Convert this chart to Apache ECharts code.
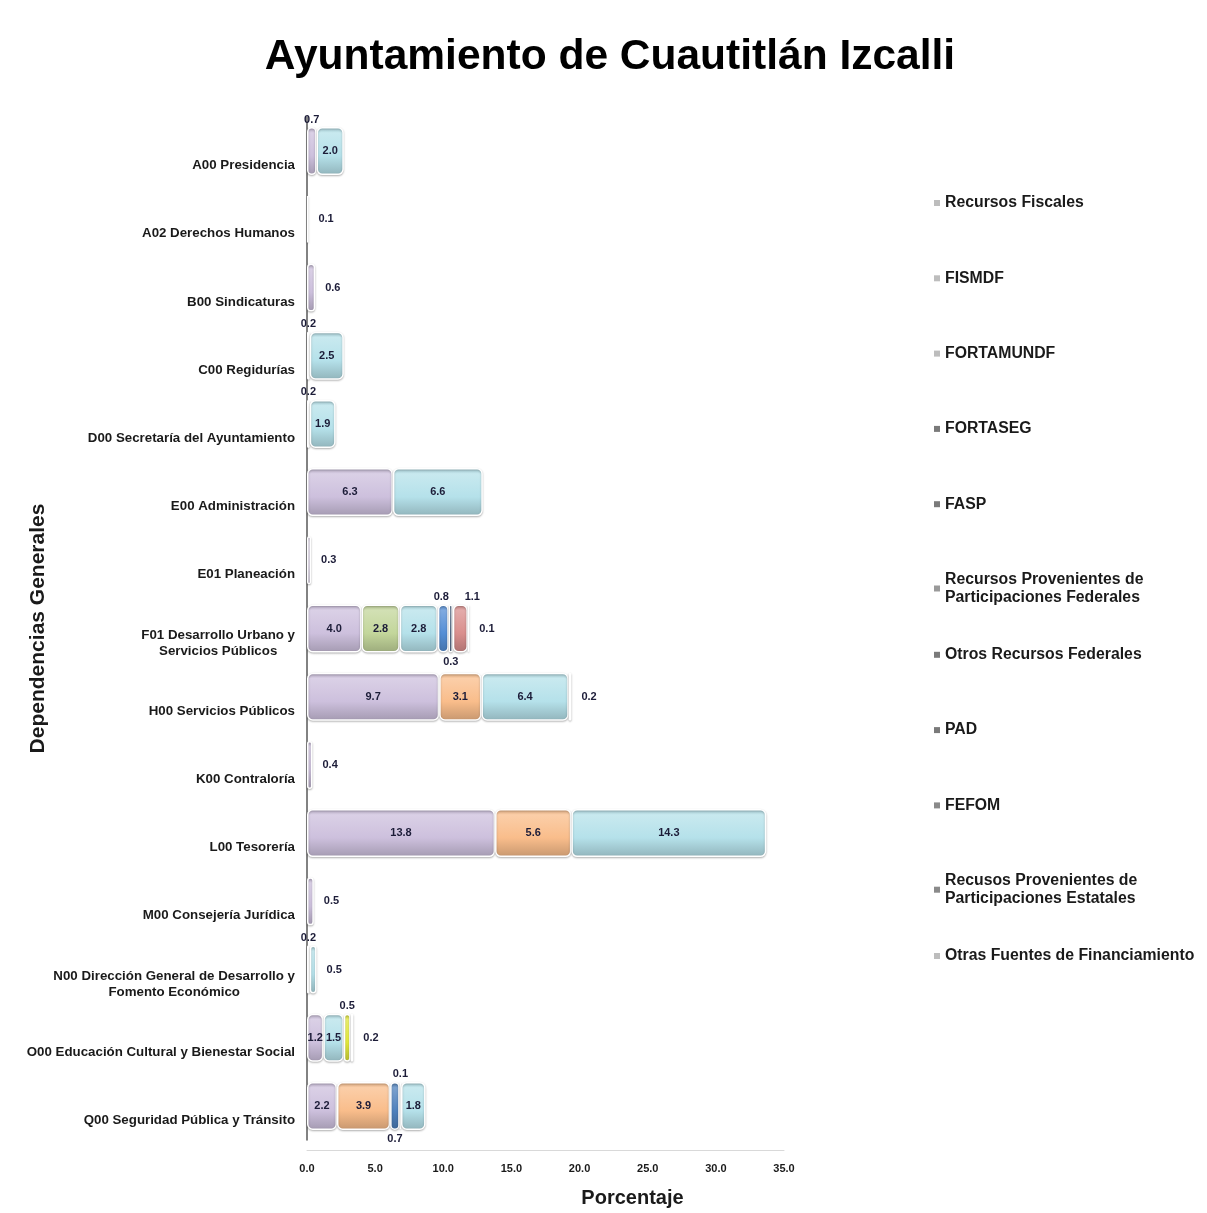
<!DOCTYPE html>
<html>
<head>
<meta charset="utf-8">
<script src="https://cdn.jsdelivr.net/npm/echarts@6/dist/echarts.min.js"></script>
<style>
  html, body { margin: 0; padding: 0; background: #fff; }
  #chart { width: 1207px; height: 1213px; }
</style>
</head>
<body>
<div id="chart"></div>
<script>
// ---- data ----
var categories = [
  'A00 Presidencia',
  'A02 Derechos Humanos',
  'B00 Sindicaturas',
  'C00 Regidurías',
  'D00 Secretaría del Ayuntamiento',
  'E00 Administración',
  'E01 Planeación',
  'F01 Desarrollo Urbano y\nServicios Públicos',
  'H00 Servicios Públicos',
  'K00 Contraloría',
  'L00 Tesorería',
  'M00 Consejería Jurídica',
  'N00 Dirección General de Desarrollo y\nFomento Económico',
  'O00 Educación Cultural y Bienestar Social',
  'Q00 Seguridad Pública y Tránsito'
];
var xTicks = [0, 5, 10, 15, 20, 25, 30, 35];

var recursosFiscales = [0.7, 0.1, 0.6, 0.2, 0.2, 6.3, 0.3, 4.0, 9.7, 0.4, 13.8, 0.5, 0.2, 1.2, 2.2];
var fismdf           = [null, null, null, null, null, null, null, 2.8, null, null, null, null, null, null, null];
var fortamundf       = [null, null, null, null, null, null, null, null, 3.1, null, 5.6, null, null, null, 3.9];
var fortaseg         = [null, null, null, null, null, null, null, null, null, null, null, null, null, null, 0.7];
var fasp             = [null, null, null, null, null, null, null, null, null, null, null, null, null, null, 0.1];
var partFederales    = [2.0, null, null, 2.5, 1.9, 6.6, null, 2.8, 6.4, null, 14.3, null, 0.5, 1.5, 1.8];
var otrosFederales   = [null, null, null, null, null, null, null, 0.8, null, null, null, null, null, null, null];
var pad              = [null, null, null, null, null, null, null, 0.3, null, null, null, null, null, null, null];
var fefom            = [null, null, null, null, null, null, null, 1.1, null, null, null, null, null, null, null];
var partEstatales    = [null, null, null, null, null, null, null, null, null, null, null, null, null, 0.5, null];
var otrasFuentes     = [null, null, null, null, null, null, null, 0.1, 0.2, null, null, null, null, 0.2, null];

var seriesNames = [
  'Recursos Fiscales', 'FISMDF', 'FORTAMUNDF', 'FORTASEG', 'FASP',
  'Recursos Provenientes de\nParticipaciones Federales', 'Otros Recursos Federales',
  'PAD', 'FEFOM', 'Recusos Provenientes de\nParticipaciones Estatales',
  'Otras Fuentes de Financiamiento'
];
var seriesData = [recursosFiscales, fismdf, fortamundf, fortaseg, fasp, partFederales,
  otrosFederales, pad, fefom, partEstatales, otrasFuentes];

// ---- style ----
var colors = ['#cdc0dd', '#c3d69b', '#f9bd8b', '#4f81bd', '#2c4d75', '#b5e1ea',
  '#558ed5', '#1f3f66', '#d98f8d', '#e4ea3c', '#bfbfbf'];
var legendMarks = ['#bdbdbd', '#bdbdbd', '#bdbdbd', '#7a7a7a', '#7a7a7a', '#9a9a9a',
  '#7a7a7a', '#7a7a7a', '#8a8a8a', '#8a8a8a', '#bdbdbd'];
// labels pushed below the bar (small neighbouring segments), and a nudge for crowded ones
var labelBelow = { '7-7': true, '14-3': true };
var labelNudge = { '7-8': [12, 0], '7-6': [-2, 0] };
var font = '"Liberation Sans", Arial, sans-serif';

function shade(hex, amt) {
  var n = parseInt(hex.slice(1), 16);
  var r = (n >> 16) & 255, g = (n >> 8) & 255, b = n & 255;
  function f(c) { return Math.max(0, Math.min(255, Math.round(amt > 0 ? c + (255 - c) * amt : c * (1 + amt)))); }
  return 'rgb(' + f(r) + ',' + f(g) + ',' + f(b) + ')';
}

function lastIndex(row) {
  var last = -1;
  seriesData.forEach(function (arr, s) { if (arr[row] != null) last = s; });
  return last;
}

var series = seriesData.map(function (arr, s) {
  var c = colors[s];
  return {
    name: seriesNames[s],
    type: 'bar',
    stack: 'total',
    barWidth: 48,
    itemStyle: {
      color: new echarts.graphic.LinearGradient(0, 0, 0, 1, [
        { offset: 0, color: shade(c, -0.12) },
        { offset: 0.12, color: shade(c, 0.25) },
        { offset: 0.6, color: c },
        { offset: 1, color: shade(c, -0.2) }
      ]),
      borderRadius: 5,
      borderColor: '#ffffff',
      borderWidth: 1.5,
      shadowColor: 'rgba(0,0,0,0.25)',
      shadowBlur: 2,
      shadowOffsetY: 1
    },
    data: arr.map(function (v, row) {
      if (v == null) return null;
      var key = row + '-' + s;
      var pos = 'inside', dist = 5;
      if (v < 1.2) {
        if (lastIndex(row) === s) { pos = 'right'; dist = 10; }
        else if (labelBelow[key]) { pos = 'bottom'; dist = 4; }
        else { pos = 'top'; dist = 2; }
      }
      return { value: v, label: { position: pos, distance: dist, offset: labelNudge[key] || [0, 0] } };
    }),
    label: {
      show: true,
      color: '#1c1c38',
      fontSize: 11,
      fontWeight: 'bold',
      fontFamily: font,
      formatter: function (p) { return p.value.toFixed(1); }
    }
  };
});

var legends = seriesNames.map(function (n, i) {
  return {
    orient: 'vertical',
    left: 929,
    top: 189 + i * 75.3,
    data: [n],
    icon: 'rect',
    itemWidth: 6,
    itemHeight: 6,
    itemGap: 0,
    selectedMode: false,
    itemStyle: { color: legendMarks[i], borderWidth: 0, shadowBlur: 0 },
    textStyle: { color: '#1a1a1a', fontSize: 15.8, fontWeight: 'bold', fontFamily: font, lineHeight: 18 }
  };
});

var chart = echarts.init(document.getElementById('chart'), null, { renderer: 'canvas' });
chart.setOption({
  animation: false,
  backgroundColor: '#ffffff',
  title: {
    text: 'Ayuntamiento de Cuautitlán Izcalli',
    left: 605,
    textAlign: 'center',
    top: 31,
    textStyle: { fontSize: 42.5, fontWeight: 'bold', color: '#000', fontFamily: font }
  },
  legend: legends,
  grid: { left: 307, right: 423, top: 117, bottom: 71 },
  xAxis: {
    type: 'value',
    min: 0,
    max: 35,
    interval: 5,
    offset: 10,
    name: 'Porcentaje',
    nameLocation: 'middle',
    nameGap: 38,
    nameMoveOverlap: false,
    nameTextStyle: { fontSize: 20, fontWeight: 'bold', color: '#1a1a1a', fontFamily: font, padding: [0, 0, 0, 174] },
    axisLine: { show: true, lineStyle: { color: '#d9d9d9', width: 1 } },
    axisTick: { show: false },
    splitLine: { show: false },
    axisLabel: {
      color: '#1a1a1a', fontSize: 11, fontWeight: 'bold', fontFamily: font, margin: 13,
      formatter: function (v) { return xTicks.indexOf(v) >= 0 ? v.toFixed(1) : ''; }
    }
  },
  yAxis: {
    type: 'category',
    inverse: true,
    data: categories,
    name: 'Dependencias Generales',
    nameLocation: 'middle',
    nameGap: 258,
    nameRotate: 90,
    nameMoveOverlap: false,
    nameTextStyle: { fontSize: 21, fontWeight: 'bold', color: '#1a1a1a', fontFamily: font, padding: [0, 0, 0, 0] },
    axisLine: { show: true, lineStyle: { color: '#595959', width: 1.5 } },
    axisTick: { show: false },
    axisLabel: {
      margin: 12,
      color: '#1a1a1a',
      fontSize: 13.3,
      fontWeight: 'bold',
      fontFamily: font,
      lineHeight: 16,
      padding: [29, 0, 0, 0],
      formatter: function (v) {
        if (v.indexOf('\n') < 0) return v;
        return v.split('\n').map(function (l) { return '{c|' + l + '}'; }).join('\n');
      },
      rich: {
        c: { align: 'center', fontSize: 13.3, fontWeight: 'bold', fontFamily: font, color: '#1a1a1a', lineHeight: 16 }
      }
    }
  },
  series: series
});
window.addEventListener('resize', function () { chart.resize(); });
</script>
</body>
</html>
